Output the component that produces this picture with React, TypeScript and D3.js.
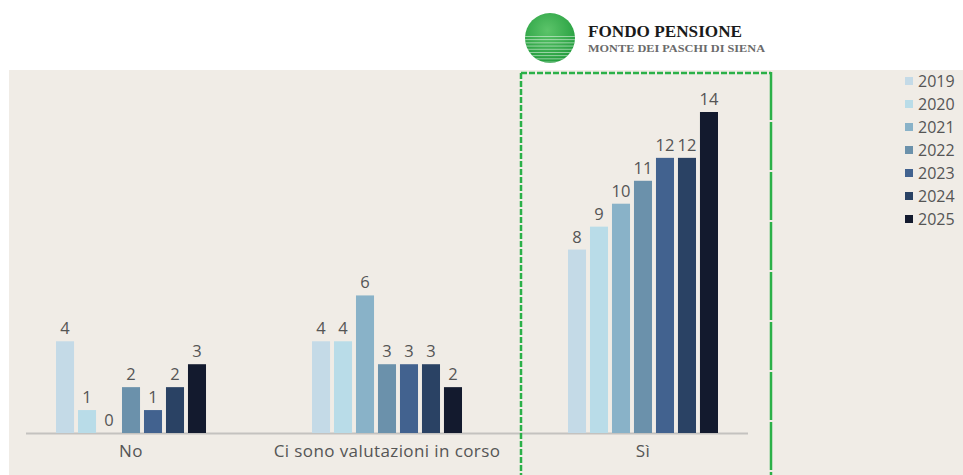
import React from "react";
import * as d3 from "d3";

const categories = ["No", "Ci sono valutazioni in corso", "Sì"];
const years = ["2019", "2020", "2021", "2022", "2023", "2024", "2025"];
const valuesNo = [4, 1, 0, 2, 1, 2, 3];
const valuesCi = [4, 4, 6, 3, 3, 3, 2];
const valuesSi = [8, 9, 10, 11, 12, 12, 14];
const colors = ["#c4dae7", "#b9dce8", "#89b2c8", "#6b91ab", "#42628f", "#2a4264", "#131a2e"];

const series = [valuesNo, valuesCi, valuesSi];

const W = 963;
const H = 475;
const FONT = "'Open Sans', 'DejaVu Sans', sans-serif";
const TXT = "#555";

export default function App() {
  const x0 = d3.scaleBand<string>().domain(categories).range([56, 718]).paddingInner(0.414);
  const x1 = d3.scaleBand<string>().domain(years).range([0, x0.bandwidth()]).paddingInner(0.18);
  const y = d3.scaleLinear().domain([0, 14]).range([433, 112]);
  const legendY = d3.scalePoint<string>().domain(years).range([81, 219]);

  const stripes = d3.range(0, 9);

  return (
    <svg width={W} height={H} style={{ position: "absolute", left: 0, top: 0, display: "block" }}>
      <defs>
        <radialGradient id="lg" cx="45%" cy="35%" r="70%">
          <stop offset="0%" stopColor="#5cc46a" />
          <stop offset="100%" stopColor="#1f9a3a" />
        </radialGradient>
        <clipPath id="cc">
          <circle cx={550} cy={38} r={25} />
        </clipPath>
      </defs>
      <rect x={0} y={0} width={W} height={H} fill="#ffffff" />
      <rect x={9} y={70} width={W - 9} height={H - 70} fill="#f0ece6" />

      {/* logo */}
      <g>
        <circle cx={550} cy={38} r={25} fill="url(#lg)" />
        <g clipPath="url(#cc)">
          {stripes.map((i) => (
            <rect key={i} x={520} y={36 + i * 3.2} width={60} height={0.9} fill="#ffffff" opacity={0.55} />
          ))}
        </g>
        <text x={588} y={37} fontFamily="'Liberation Serif', serif" fontWeight="bold" fontSize={17} fill="#1a1a1a" textLength={154} lengthAdjust="spacingAndGlyphs">
          FONDO PENSIONE
        </text>
        <text x={588} y={52} fontFamily="'Liberation Serif', serif" fontWeight="bold" fontSize={9.5} fill="#6a6a6a" textLength={177} lengthAdjust="spacingAndGlyphs">
          MONTE DEI PASCHI DI SIENA
        </text>
      </g>

      {/* baseline */}
      <line x1={26} x2={748} y1={433.5} y2={433.5} stroke="#c4c2bf" strokeWidth={2} />

      {/* bars */}
      {categories.map((c, ci) => (
        <g key={c} transform={`translate(${x0(c)},0)`}>
          {years.map((yr, yi) => {
            const v = series[ci][yi];
            const bx = x1(yr)!;
            return (
              <g key={yr}>
                {v > 0 && (
                  <rect x={bx} y={y(v)} width={x1.bandwidth()} height={y(0) - y(v)} fill={colors[yi]} />
                )}
                <text
                  x={bx + x1.bandwidth() / 2}
                  y={y(v) - 7}
                  textAnchor="middle"
                  fontFamily={FONT}
                  fontSize={16.5}
                  fill={TXT}
                >
                  {v}
                </text>
              </g>
            );
          })}
          <text x={x0.bandwidth() / 2} y={457} textAnchor="middle" fontFamily={FONT} fontSize={17} letterSpacing={0.4} fill={TXT}>
            {c}
          </text>
        </g>
      ))}

      {/* green highlight box */}
      <g fill="none" stroke="#2bb048" strokeWidth={2.5}>
        <line x1={521} x2={771} y1={73} y2={73} strokeDasharray="6 2" />
        <line x1={521} x2={521} y1={73} y2={H} strokeDasharray="6 2" />
        <line x1={771} x2={771} y1={72} y2={H} strokeDasharray="48 2" />
      </g>

      {/* legend */}
      {years.map((yr, i) => (
        <g key={yr} transform={`translate(905,${legendY(yr)})`}>
          <rect x={0} y={-4} width={8} height={8} fill={colors[i]} />
          <text x={13} y={6} fontFamily={FONT} fontSize={16} fill={TXT}>
            {yr}
          </text>
        </g>
      ))}
    </svg>
  );
}
